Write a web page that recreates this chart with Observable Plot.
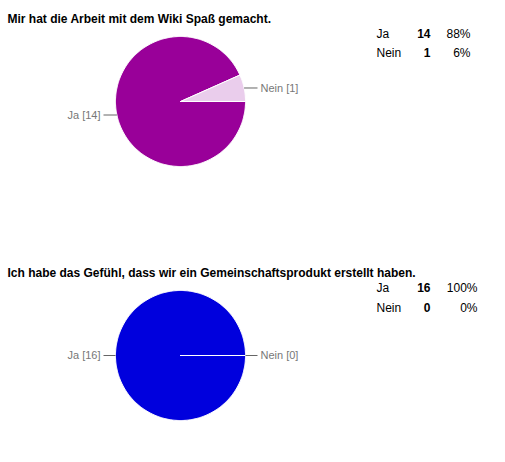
<!DOCTYPE html>
<html><head><meta charset="utf-8">
<script src="https://cdn.jsdelivr.net/npm/d3@7"></script>
<script src="https://cdn.jsdelivr.net/npm/@observablehq/plot@0.6"></script>
<style>body{margin:0;background:#fff}</style>
</head><body><div id="chart"></div>
<script>
// ---- data ----
const titles = [
  "Mir hat die Arbeit mit dem Wiki Spaß gemacht.",
  "Ich habe das Gefühl, dass wir ein Gemeinschaftsprodukt erstellt haben."
];
const categories = ["Ja", "Nein"];
const counts1 = [14, 1];
const counts2 = [16, 0];
const percents1 = ["88%", "6%"];
const percents2 = ["100%", "0%"];

// ---- layout / style ----
const W = 505, H = 462, R = 65;
const FONT = "Arial, 'Liberation Sans', sans-serif";
const panels = [
  {title: titles[0], counts: counts1, pcts: percents1, cx: 180, cy: 101, titleY: 19, rowY: [34, 53], pctX: 470, colors: ["#990099", "#eacdec"]},
  {title: titles[1], counts: counts2, pcts: percents2, cx: 180, cy: 355, titleY: 273, rowY: [288, 308], pctX: 477, colors: ["#0000dd", "#ccccff"]}
];

const marks = [];
for (const p of panels) {
  const total = d3.sum(p.counts);
  let a = 0;
  const labels = [];
  p.counts.forEach((c, i) => {
    const a1 = a + 2 * Math.PI * c / total;
    const pts = [{x: p.cx, y: p.cy}];
    const n = Math.max(1, Math.ceil((a1 - a) / (Math.PI / 180)));
    for (let k = 0; k <= n; k++) {
      const t = a + (a1 - a) * k / n;
      pts.push({x: p.cx + R * Math.cos(t), y: p.cy + R * Math.sin(t)});
    }
    pts.push({x: p.cx, y: p.cy});
    marks.push(Plot.line(pts, {x: "x", y: "y", fill: p.colors[i], stroke: "white", strokeWidth: 1, curve: "linear"}));
    const m = (a + a1) / 2;
    const ex = p.cx + R * Math.cos(m), ey = p.cy + R * Math.sin(m);
    const side = Math.cos(m) >= 0 ? 1 : -1;
    labels.push({x1: ex, y1: ey, x2: p.cx + side * 77, y2: ey, tx: p.cx + side * 80, side,
      text: `${categories[i]} [${c}]`});
    a = a1;
  });
  marks.push(Plot.link(labels, {x1: "x1", y1: "y1", x2: "x2", y2: "y2", stroke: "#666", strokeWidth: 1}));
  marks.push(Plot.text(labels.filter(d => d.side > 0), {x: "tx", y: "y1", text: "text", textAnchor: "start",
    fill: "#777", fontSize: 11, fontFamily: FONT}));
  marks.push(Plot.text(labels.filter(d => d.side < 0), {x: "tx", y: "y1", text: "text", textAnchor: "end",
    fill: "#777", fontSize: 11, fontFamily: FONT}));
  // title
  marks.push(Plot.text([p.title], {x: 7, y: p.titleY, text: d => d, textAnchor: "start", fontWeight: "bold",
    fontSize: 12, fill: "#000", fontFamily: FONT}));
  // table
  const rows = categories.map((c, i) => ({cat: c, n: p.counts[i], pct: p.pcts[i], y: p.rowY[i]}));
  marks.push(Plot.text(rows, {x: 376, y: "y", text: "cat", textAnchor: "start", fontSize: 12, fill: "#000", fontFamily: FONT}));
  marks.push(Plot.text(rows, {x: 430, y: "y", text: d => String(d.n), textAnchor: "end", fontWeight: "bold", fontSize: 12, fill: "#000", fontFamily: FONT}));
  marks.push(Plot.text(rows, {x: p.pctX, y: "y", text: "pct", textAnchor: "end", fontSize: 12, fill: "#000", fontFamily: FONT}));
}

const chart = Plot.plot({
  width: W, height: H,
  margin: 0,
  x: {domain: [0, W], range: [0, W], axis: null},
  y: {domain: [0, H], range: [0, H], axis: null},
  style: {background: "white", fontFamily: FONT},
  marks
});
document.getElementById("chart").appendChild(chart);
</script>
</body></html>
